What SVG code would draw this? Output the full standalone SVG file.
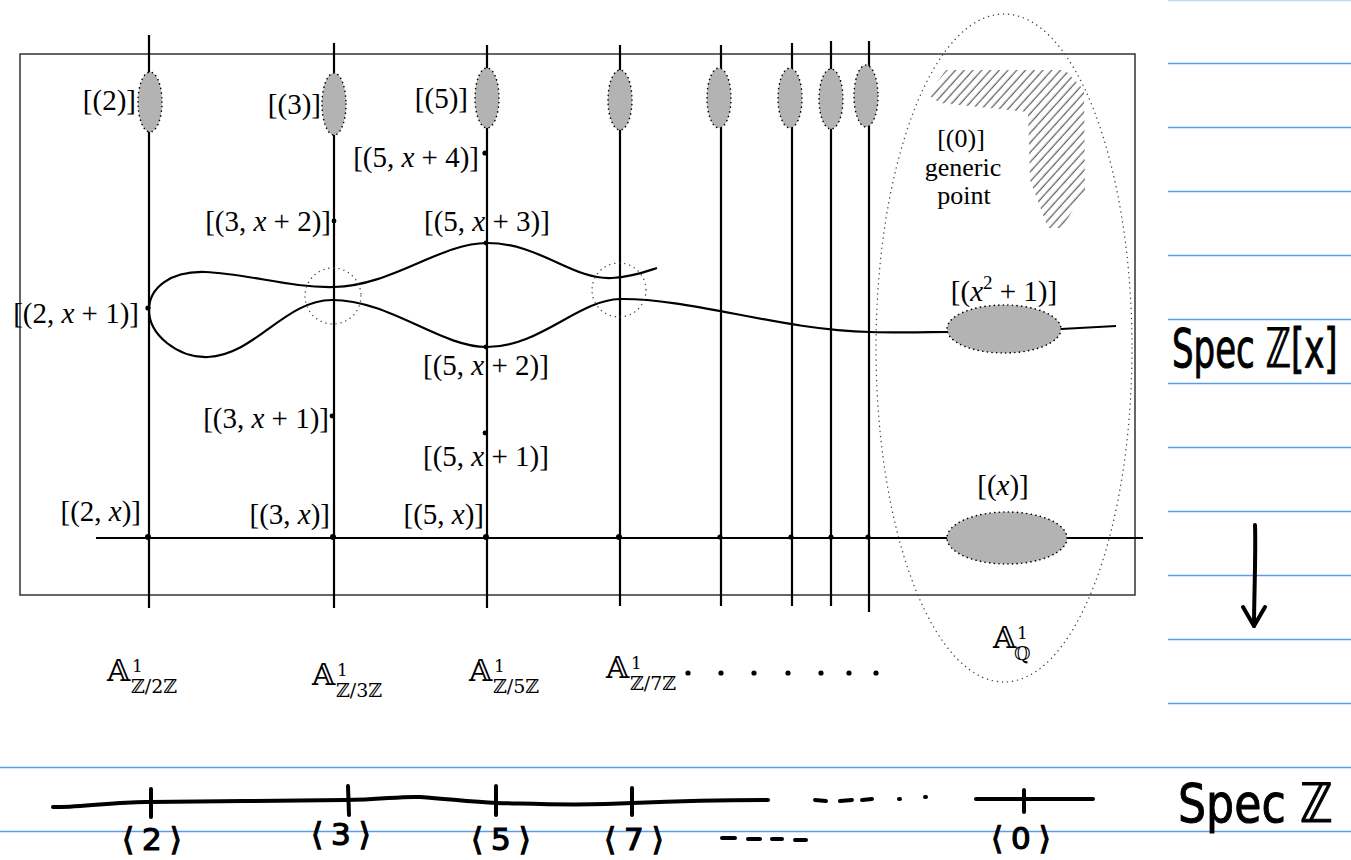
<svg xmlns="http://www.w3.org/2000/svg" width="1351" height="860" viewBox="0 0 1351 860">
<style>
.m{font-family:"Liberation Serif","DejaVu Serif",serif;font-size:29px;fill:#000}
.s{font-size:26px}
.i{font-style:italic}
.bb{font-family:"DejaVu Serif","DejaVu Sans",serif;fill:#000}
.ln{stroke:#000;stroke-width:2.2;fill:none}
.gr{fill:#b3b3b3;stroke:#000;stroke-width:1.6;stroke-dasharray:0.1 4.5;stroke-linecap:round}
.dc{fill:none;stroke:#444;stroke-width:1.4;stroke-dasharray:0.1 5;stroke-linecap:round}
.pt{fill:#000}
.blue{stroke:#5c9cf0;stroke-width:1.4}
.hw{stroke:#000;stroke-width:4;fill:none;stroke-linecap:round;stroke-linejoin:round}
.hwt{font-family:"DejaVu Sans",sans-serif;fill:#000;stroke:#000;stroke-width:1}
.pr{font-family:"DejaVu Sans",sans-serif;fill:#000;stroke:#000;stroke-width:1.2;font-size:31px;letter-spacing:8px}
</style>
<defs>
<pattern id="hatch" patternUnits="userSpaceOnUse" width="6.5" height="6.5" patternTransform="rotate(42)">
<line x1="3" y1="0" x2="3" y2="6.5" stroke="#222" stroke-width="0.9"/>
</pattern>
<clipPath id="hclip"><polygon points="928,95 946,70 1065,70 1084,90 1085,190 1062,228 1048,228 1030,180 1028,112 940,103"/></clipPath>
</defs>
<rect width="1351" height="860" fill="#fff"/>
<g id="ruled">
<line class="blue" x1="1168" y1="0.5" x2="1351" y2="0.5" opacity="0.4"/>
<line class="blue" x1="1168" y1="63.5" x2="1351" y2="63.5"/>
<line class="blue" x1="1168" y1="127.5" x2="1351" y2="127.5"/>
<line class="blue" x1="1168" y1="191.5" x2="1351" y2="191.5"/>
<line class="blue" x1="1168" y1="255.5" x2="1351" y2="255.5"/>
<line class="blue" x1="1168" y1="319.5" x2="1351" y2="319.5"/>
<line class="blue" x1="1168" y1="383.5" x2="1351" y2="383.5"/>
<line class="blue" x1="1168" y1="447.5" x2="1351" y2="447.5"/>
<line class="blue" x1="1168" y1="511.5" x2="1351" y2="511.5"/>
<line class="blue" x1="1168" y1="575.5" x2="1351" y2="575.5"/>
<line class="blue" x1="1168" y1="639.5" x2="1351" y2="639.5"/>
<line class="blue" x1="1168" y1="703.5" x2="1351" y2="703.5"/>
<line class="blue" x1="0" y1="767.5" x2="1351" y2="767.5"/>
<line class="blue" x1="0" y1="831.5" x2="1351" y2="831.5"/>
</g>
<g id="frame"><rect x="20" y="54" width="1115" height="541" fill="none" stroke="#333" stroke-width="1.5"/></g>
<g id="generic-region">
<ellipse class="dc" cx="1004" cy="348" rx="128" ry="334"/>
<rect x="920" y="60" width="180" height="180" fill="url(#hatch)" clip-path="url(#hclip)"/>
<text class="m s" x="961" y="147" text-anchor="middle">[(0)]</text>
<text class="m s" x="963" y="176" text-anchor="middle">generic</text>
<text class="m s" x="964" y="204" text-anchor="middle">point</text>
</g>
<g id="connectors">
<line class="ln" x1="149" y1="35" x2="149" y2="608"/>
<line class="ln" x1="334" y1="43" x2="334" y2="608"/>
<line class="ln" x1="487" y1="45" x2="487" y2="608"/>
<line class="ln" x1="620" y1="45" x2="620" y2="606"/>
<line class="ln" x1="721" y1="45" x2="721" y2="606"/>
<line class="ln" x1="792" y1="43" x2="792" y2="606"/>
<line class="ln" x1="831" y1="41" x2="831" y2="606"/>
<line class="ln" x1="869" y1="41" x2="869" y2="612"/>
<line class="ln" x1="96" y1="538" x2="1143" y2="538"/>
<path class="ln" d="M149,310 C149,288 170,271 205,272 C250,274 290,288 334,287 C392,286 440,243 487,243 C540,243 572,280 612,278 C632,277 645,272 657,268"/>
<path class="ln" d="M149,310 C149,335 178,358 208,357 C255,355 285,300 332,300 C390,300 440,347 487,347 C540,347 578,300 620,299 C690,298 780,330 870,332 C905,333 930,332 948,332"/>
<path class="ln" d="M1061,329 L1116,326"/>
</g>
<g id="crossings">
<circle class="dc" cx="333" cy="296" r="28"/>
<circle class="dc" cx="619" cy="290" r="27"/>
</g>
<g id="closed-points">
<ellipse class="gr" cx="150" cy="102" rx="12" ry="30"/>
<ellipse class="gr" cx="334" cy="104" rx="12" ry="31"/>
<ellipse class="gr" cx="487" cy="98" rx="12" ry="30"/>
<ellipse class="gr" cx="620" cy="100" rx="12" ry="30"/>
<ellipse class="gr" cx="719" cy="98" rx="12" ry="30"/>
<ellipse class="gr" cx="790" cy="98" rx="12" ry="30"/>
<ellipse class="gr" cx="831" cy="99" rx="12" ry="30"/>
<ellipse class="gr" cx="866" cy="96" rx="12" ry="31"/>
<ellipse class="gr" cx="1004" cy="329" rx="57" ry="24"/>
<ellipse class="gr" cx="1007" cy="538" rx="60" ry="26"/>
</g>
<g id="points">
<circle class="pt" cx="485" cy="153" r="2.6"/>
<circle class="pt" cx="334" cy="221" r="2.4"/>
<circle class="pt" cx="486" cy="243" r="2.4"/>
<circle class="pt" cx="148" cy="308" r="2.6"/>
<circle class="pt" cx="486" cy="347" r="2.4"/>
<circle class="pt" cx="332" cy="416" r="2.4"/>
<circle class="pt" cx="485" cy="433" r="2.4"/>
<circle class="pt" cx="148" cy="537" r="3"/>
<circle class="pt" cx="333" cy="537" r="3"/>
<circle class="pt" cx="486" cy="537" r="3"/>
<circle class="pt" cx="619" cy="537" r="3"/>
<circle class="pt" cx="720" cy="537" r="2.6"/>
<circle class="pt" cx="791" cy="537" r="2.6"/>
<circle class="pt" cx="831" cy="537" r="2.6"/>
<circle class="pt" cx="868" cy="537" r="2.6"/>
</g>
<g id="labels">
<text class="m" x="136" y="110" text-anchor="end">[(2)]</text>
<text class="m" x="321" y="114" text-anchor="end">[(3)]</text>
<text class="m" x="468" y="108" text-anchor="end">[(5)]</text>
<text class="m" x="479" y="167" text-anchor="end">[(5, <tspan class="i">x</tspan> + 4)]</text>
<text class="m" x="331" y="231" text-anchor="end">[(3, <tspan class="i">x</tspan> + 2)]</text>
<text class="m" x="424" y="231">[(5, <tspan class="i">x</tspan> + 3)]</text>
<text class="m" x="139" y="323" text-anchor="end">[(2, <tspan class="i">x</tspan> + 1)]</text>
<text class="m" x="423" y="375">[(5, <tspan class="i">x</tspan> + 2)]</text>
<text class="m" x="329" y="428" text-anchor="end">[(3, <tspan class="i">x</tspan> + 1)]</text>
<text class="m" x="423" y="466">[(5, <tspan class="i">x</tspan> + 1)]</text>
<text class="m" x="141" y="521" text-anchor="end">[(2, <tspan class="i">x</tspan>)]</text>
<text class="m" x="330" y="524" text-anchor="end">[(3, <tspan class="i">x</tspan>)]</text>
<text class="m" x="484" y="524" text-anchor="end">[(5, <tspan class="i">x</tspan>)]</text>
<text class="m" x="1004" y="301" text-anchor="middle">[(<tspan class="i">x</tspan><tspan font-size="19" dy="-12">2</tspan><tspan dy="12"> + 1)]</tspan></text>
<text class="m" x="1003" y="495" text-anchor="middle">[(<tspan class="i">x</tspan>)]</text>
</g>
<g id="fibre-labels">
<text class="bb" x="107" y="681" font-size="30">𝔸<tspan font-size="17" x="132" y="672">1</tspan><tspan font-size="19" x="131" y="693">ℤ/2ℤ</tspan></text>
<text class="bb" x="312" y="685" font-size="30">𝔸<tspan font-size="17" x="337" y="676">1</tspan><tspan font-size="19" x="336" y="697">ℤ/3ℤ</tspan></text>
<text class="bb" x="469" y="681" font-size="30">𝔸<tspan font-size="17" x="494" y="672">1</tspan><tspan font-size="19" x="493" y="693">ℤ/5ℤ</tspan></text>
<text class="bb" x="606" y="678" font-size="30">𝔸<tspan font-size="17" x="631" y="669">1</tspan><tspan font-size="19" x="630" y="690">ℤ/7ℤ</tspan></text>
<text class="bb" x="993" y="648" font-size="30">𝔸<tspan font-size="17" x="1017" y="639">1</tspan><tspan font-size="19" x="1014" y="660">ℚ</tspan></text>
<circle class="pt" cx="688" cy="673" r="2.6"/>
<circle class="pt" cx="721" cy="673" r="2.6"/>
<circle class="pt" cx="754" cy="673" r="2.6"/>
<circle class="pt" cx="788" cy="673" r="2.6"/>
<circle class="pt" cx="821" cy="673" r="2.6"/>
<circle class="pt" cx="849" cy="673" r="2.6"/>
<circle class="pt" cx="876" cy="673" r="2.6"/>
</g>
<g id="spec-zx">
<text class="hwt" transform="translate(1172,367) scale(0.63,1)" x="0" y="0" font-size="54">Spec ℤ[x]</text>
</g>
<g id="projection">
<path class="hw" d="M1255,525 C1256,550 1254,600 1254,626"/>
<path class="hw" d="M1243,607 L1254,626 L1265,607"/>
</g>
<g id="spec-z-line">
<path class="hw" d="M53,807 C80,808 120,801 150,802 C200,802 300,800 345,800 C380,800 400,796 420,797 C450,799 470,802 497,803 C540,804 580,806 632,803 C680,801 730,800 768,800"/>
<path class="hw" d="M151,789 L151,817 M348,786 L349,815 M496,786 L496,815 M632,788 L632,815"/>
<path class="hw" stroke-width="2.5" d="M815,800 L826,801 M840,801 L852,800 M862,800 L872,799 M899,799 L900,799 M925,797 L926,797"/>
<path class="hw" d="M976,799 L1093,799 M1024,790 L1024,812"/>
<path class="hw" stroke-width="2.5" d="M722,838 L735,838 M748,839 L760,839 M772,839 L782,839 M795,840 L806,840"/>
</g>
<g id="primes">
<text class="pr" x="122" y="850">⟨2⟩</text>
<text class="pr" x="311" y="845">⟨3⟩</text>
<text class="pr" x="471" y="850">⟨5⟩</text>
<text class="pr" x="604" y="850">⟨7⟩</text>
<text class="pr" x="991" y="849">⟨0⟩</text>
</g>
<g id="spec-z">
<text class="hwt" transform="translate(1178,822) scale(0.82,1)" font-size="54">Spec ℤ</text>
</g>
</svg>
